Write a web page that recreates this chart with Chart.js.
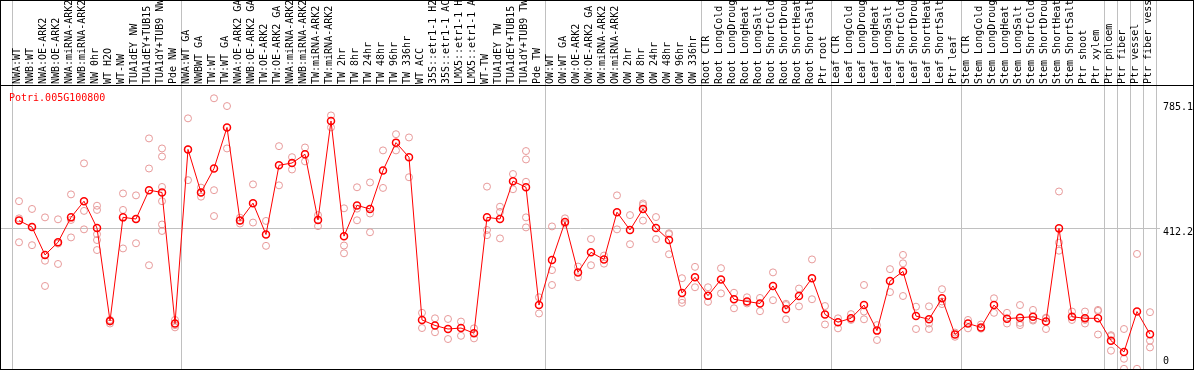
<!DOCTYPE html>
<html>
<head>
<meta charset="utf-8">
<title>Potri.005G100800</title>
<script src="https://cdn.jsdelivr.net/npm/chart.js@4/dist/chart.umd.min.js"></script>
<style>
  html, body { margin: 0; padding: 0; background: #fff; }
  canvas { display: block; }
</style>
</head>
<body>
<canvas id="expr-chart" width="1194" height="370"></canvas>
<script>
(function() {
    'use strict';

    var geneId = 'Potri.005G100800';

    var samples = [
        'NWA:WT', 'NWB:WT', 'NWA:OE-ARK2', 'NWB:OE-ARK2', 'NWA:miRNA-ARK2', 'NWB:miRNA-ARK2',
        'NW 0hr', 'WT H2O', 'WT-NW', 'TUA1dEY NW', 'TUA1dEY+TUB15 NW', 'TUA1dY+TUB9 NW', 'Pde NW',
        'NWA:WT GA', 'NWBWT GA', 'TW:WT', 'TW:WT GA', 'NWA:OE-ARK2 GA', 'NWB:OE-ARK2 GA',
        'TW:OE-ARK2', 'TW:OE-ARK2 GA', 'NWA:miRNA-ARK2', 'NWB:miRNA-ARK2', 'TW:miRNA-ARK2',
        'TW:miRNA-ARK2', 'TW 2hr', 'TW 8hr', 'TW 24hr', 'TW 48hr', 'TW 96hr', 'TW 336hr',
        'WT ACC', '35S::etr1-1 H2O', '35S::etr1-1 ACC', 'LMX5::etr1-1 H2O', 'LMX5::etr1-1 ACC',
        'WT-TW', 'TUA1dEY TW', 'TUA1dEY+TUB15 TW', 'TUA1dY+TUB9 TW', 'Pde TW',
        'OW:WT', 'OW:WT GA', 'OW:OE-ARK2', 'OW:OE-ARK2 GA', 'OW:miRNA-ARK2', 'OW:miRNA-ARK2',
        'OW 2hr', 'OW 8hr', 'OW 24hr', 'OW 48hr', 'OW 96hr', 'OW 336hr',
        'Root CTR', 'Root LongCold', 'Root LongDrought', 'Root LongHeat', 'Root LongSalt',
        'Root ShortCold', 'Root ShortDrought', 'Root ShortHeat', 'Root ShortSalt', 'Ptr root',
        'Leaf CTR', 'Leaf LongCold', 'Leaf LongDrought', 'Leaf LongHeat', 'Leaf LongSalt',
        'Leaf ShortCold', 'Leaf ShortDrought', 'Leaf ShortHeat', 'Leaf ShortSalt', 'Ptr leaf',
        'Stem CTR', 'Stem LongCold', 'Stem LongDrought', 'Stem LongHeat', 'Stem LongSalt',
        'Stem ShortCold', 'Stem ShortDrought', 'Stem ShortHeat', 'Stem ShortSalt',
        'Ptr shoot', 'Ptr xylem', 'Ptr phloem', 'Ptr fiber', 'Ptr vessel', 'Ptr fiber vessel'
    ];

    // mean expression per sample
    var means = [
        436, 416, 330, 369, 446, 496, 413, 126, 446, 441, 530, 523, 118,
        656, 523, 597, 724, 436, 490, 393, 607, 614, 641, 438, 744, 388, 483, 472, 591,
        677, 632, 129, 112, 101, 104, 88, 446, 441, 558, 539, 175,
        314, 432, 276, 338, 316, 462, 407, 472, 413, 376, 212, 261,
        204, 254, 193, 186, 180, 234, 162, 203, 258, 146,
        122, 134, 175, 96, 249, 279, 141, 131, 196, 84,
        118, 106, 175, 133, 136, 139, 124, 412, 139, 134, 134,
        65, 30, 155, 85
    ];

    // individual replicates per sample
    var replicates = [
        [496, 443, 369], [472, 416, 360], [446, 312, 234], [440, 365, 302], [517, 438, 384],
        [613, 466, 409], [482, 469, 394, 376, 345], [129, 124, 118], [520, 469, 350],
        [514, 441, 366], [690, 597, 298], [659, 634, 540, 496, 424, 404], [129, 113, 106],
        [752, 656, 561], [538, 523, 510], [814, 530, 450], [790, 659], [445, 436, 427],
        [548, 430], [435, 358], [666, 545], [632, 594], [662, 619], [453, 419], [761, 724],
        [474, 359, 335], [539, 473, 437], [554, 458, 400], [653, 537], [703, 653], [693, 570],
        [151, 104], [134, 91], [132, 70], [124, 80], [103, 72], [541, 407, 391],
        [479, 463, 381], [580, 533], [651, 625, 556, 446, 415], [199, 149],
        [418, 283, 237], [443, 427], [294, 261], [379, 298], [328, 303], [514, 409],
        [453, 363], [489, 484, 436], [447, 379], [397, 394, 332], [258, 191, 182], [293, 230],
        [230, 185], [289, 211], [213, 165], [199, 180], [197, 156], [276, 190],
        [179, 175, 131], [226, 171], [316, 193], [172, 115],
        [134, 103], [147, 129], [237, 155, 131], [113, 67], [286, 215], [330, 304, 203],
        [170, 101], [171, 118, 101], [224, 186, 178], [90, 77],
        [129, 103], [115, 102], [196, 151], [151, 118], [175, 120, 113], [160, 130, 127],
        [134, 136, 101], [526, 368, 343], [155, 129], [155, 118, 129], [160, 157, 84],
        [79, 82, 34], [101, 9, -22], [333, -22], [153, 65, 44]
    ];

    var yTicks = [0, 412.2, 785.1];
    var midTick = 412.2;

    // first sample of each experiment block (vertical separators)
    var groupStarts = [0, 13, 41, 53, 63, 73, 84, 85, 86, 87];

    var GRID = '#c0c0c0';
    var MONO = '"DejaVu Sans Mono", "Liberation Mono", monospace';

    var meanPoints = means.map(function(v, i) { return { x: i, y: v }; });
    var repPoints = [];
    replicates.forEach(function(reps, i) {
        reps.forEach(function(v) { repPoints.push({ x: i, y: v }); });
    });

    // white page, outer frame, header rule and gene name
    var framePlugin = {
        id: 'frame',
        beforeDraw: function(chart) {
            var ctx = chart.ctx;
            ctx.save();
            ctx.fillStyle = '#fff';
            ctx.fillRect(0, 0, chart.width, chart.height);
            ctx.restore();
        },
        afterDraw: function(chart) {
            var ctx = chart.ctx;
            var area = chart.chartArea;
            ctx.save();
            ctx.strokeStyle = '#000';
            ctx.lineWidth = 1;
            ctx.strokeRect(0.5, 0.5, chart.width - 1, chart.height - 1);
            ctx.beginPath();
            ctx.moveTo(0, area.top - 0.5);
            ctx.lineTo(chart.width, area.top - 0.5);
            ctx.stroke();
            ctx.fillStyle = '#ff0000';
            ctx.font = '10px ' + MONO;
            ctx.textBaseline = 'alphabetic';
            ctx.fillText(geneId, 9, area.top + 15);
            ctx.restore();
        }
    };

    var ctx = document.getElementById('expr-chart').getContext('2d');

    var exprChart = new Chart(ctx, {
        type: 'scatter',
        data: {
            datasets: [{
                label: 'mean',
                data: meanPoints,
                showLine: true,
                borderColor: '#ff0000',
                borderWidth: 1,
                pointRadius: 3.5,
                pointBorderWidth: 1.5,
                pointBorderColor: '#ff0000',
                pointBackgroundColor: 'rgba(0,0,0,0)',
                order: 0
            }, {
                label: 'replicates',
                data: repPoints,
                showLine: false,
                pointRadius: 3.5,
                pointBorderWidth: 1,
                pointBorderColor: '#e89a9a',
                pointBackgroundColor: 'rgba(0,0,0,0)',
                order: 1
            }]
        },
        options: {
            responsive: false,
            animation: false,
            devicePixelRatio: 1,
            layout: { autoPadding: false, padding: { left: 1, right: 0, top: 0, bottom: 1 } },
            plugins: {
                legend: { display: false },
                tooltip: { enabled: false },
                title: { display: false }
            },
            scales: {
                x: {
                    type: 'linear',
                    position: 'top',
                    min: -1.385,
                    max: 87.77,
                    bounds: 'data',
                    afterBuildTicks: function(scale) {
                        scale.ticks = samples.map(function(_, i) { return { value: i }; });
                    },
                    afterFit: function(scale) {
                        scale.height = 86;
                    },
                    ticks: {
                        autoSkip: false,
                        minRotation: 90,
                        maxRotation: 90,
                        padding: -84,
                        color: '#000',
                        font: { family: MONO, size: 10, lineHeight: 0.2 },
                        callback: function(value, index) { return samples[index]; }
                    },
                    grid: {
                        offset: true,
                        tickLength: 86,
                        lineWidth: 1,
                        color: function(c) {
                            if (c.type !== 'tick') return GRID;
                            return groupStarts.indexOf(c.index) >= 0 ? GRID : 'rgba(0,0,0,0)';
                        }
                    },
                    border: { display: false }
                },
                y: {
                    type: 'linear',
                    position: 'right',
                    min: -22.6,
                    max: 852,
                    afterBuildTicks: function(scale) {
                        scale.ticks = yTicks.map(function(v) { return { value: v }; });
                    },
                    afterFit: function(scale) {
                        scale.width = 34;
                        scale.paddingTop = 0;
                        scale.paddingBottom = 0;
                    },
                    ticks: {
                        padding: 3,
                        color: '#000',
                        font: { family: MONO, size: 10, lineHeight: 0.8 },
                        // the middle label sits just under its grid line
                        callback: function(value) {
                            return value === midTick ? ['', String(value)] : String(value);
                        }
                    },
                    grid: {
                        drawTicks: false,
                        color: function(c) {
                            return c.tick && c.tick.value === midTick ? GRID : 'rgba(0,0,0,0)';
                        }
                    },
                    border: { display: false }
                }
            }
        },
        plugins: [framePlugin]
    });
})();
</script>
</body>
</html>
